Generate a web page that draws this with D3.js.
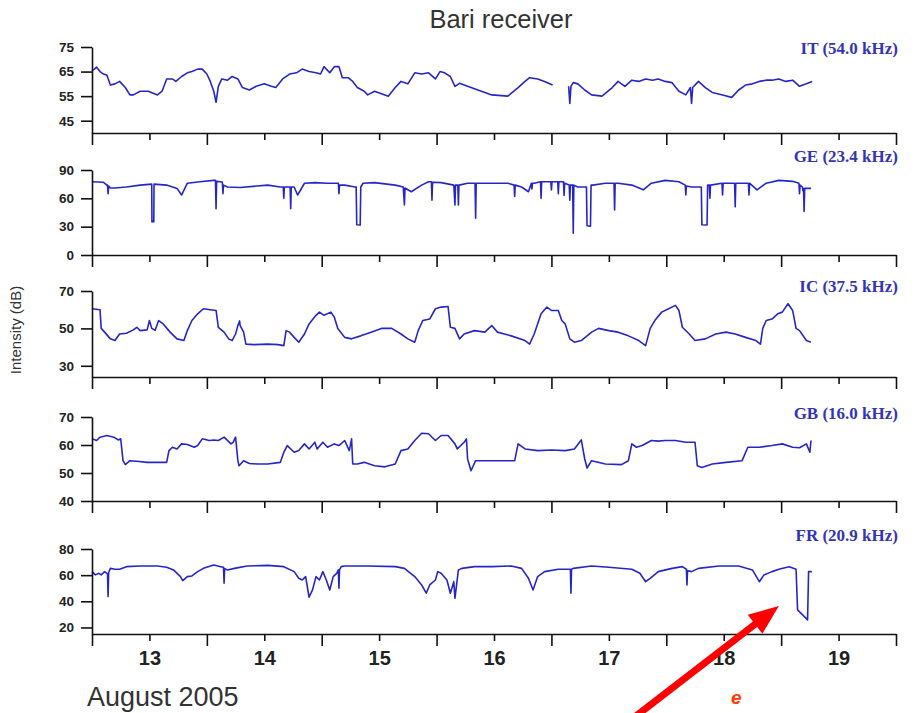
<!DOCTYPE html>
<html><head><meta charset="utf-8">
<script src="https://cdn.jsdelivr.net/npm/d3@7"></script>
<style>body{margin:0;background:#fff}svg{display:block}</style>
</head><body><svg id="c" width="916" height="713"></svg>
<script>
// ---------- data ----------
const xDomain = [12.5, 19.5];
const dayTicks = [13, 14, 15, 16, 17, 18, 19];
const halfDayTicks = [12.5, 13.5, 14.5, 15.5, 16.5, 17.5, 18.5, 19.5];

const stationNames = ["IT (54.0 kHz)", "GE (23.4 kHz)", "IC (37.5 kHz)", "GB (16.0 kHz)", "FR (20.9 kHz)"];
const yDomains = [[40, 75], [0, 90], [24, 70], [40, 70], [15, 80]];
const yTicksIT = [45, 55, 65, 75];
const yTicksGE = [0, 30, 60, 90];
const yTicksIC = [30, 50, 70];
const yTicksGB = [40, 50, 60, 70];
const yTicksFR = [20, 40, 60, 80];

const dataIT = [
[12.50,65.4],[12.52,66],[12.54,66.8],[12.57,65],[12.60,64],[12.63,63.5],[12.66,59.5],[12.70,60],[12.74,61],[12.79,58.5],[12.83,55.5],[12.86,55.5],[12.92,57],[12.99,57],[13.07,55.5],[13.11,57],[13.15,62],[13.20,62],[13.23,61],[13.28,63],[13.33,64.5],[13.37,65],[13.42,66],[13.46,66],[13.50,64],[13.53,61],[13.56,57],[13.58,52.5],[13.60,59],[13.63,62],[13.68,61.5],[13.72,63],[13.77,62],[13.81,58.5],[13.87,57.5],[13.93,59],[14.00,60],[14.06,59],[14.10,58.5],[14.16,62],[14.22,64],[14.28,64.5],[14.33,66],[14.39,65],[14.45,64.5],[14.49,64],[14.52,67],[14.57,64.5],[14.61,67],[14.65,67],[14.68,62.5],[14.73,62.5],[14.77,61],[14.81,58.5],[14.87,57],[14.90,55.5],[14.96,57],[15.02,56],[15.08,55],[15.14,58.5],[15.19,61],[15.25,60],[15.31,64.5],[15.37,64],[15.43,64.5],[15.49,62],[15.53,65],[15.57,64.5],[15.62,63],[15.66,59],[15.70,60.2],[15.77,59],[15.86,57.5],[15.98,55.5],[16.12,55],[16.21,58.5],[16.27,61],[16.31,62.5],[16.38,62],[16.44,61],[16.51,59.5],[16.58,null],[16.65,59],[16.66,52],[16.67,59],[16.69,60.5],[16.73,60],[16.79,57.5],[16.85,55.5],[16.94,55],[17.03,58.5],[17.08,61],[17.14,59],[17.20,61.5],[17.26,61],[17.32,62],[17.38,61.5],[17.43,62],[17.49,61],[17.55,60.5],[17.61,57],[17.67,55.5],[17.71,58.5],[17.72,52],[17.73,58.5],[17.78,61],[17.84,58.5],[17.90,56.5],[17.99,55.5],[18.07,54.5],[18.13,57.5],[18.19,59.5],[18.25,60],[18.31,61],[18.37,61.5],[18.42,61.5],[18.48,62],[18.54,61],[18.60,61.5],[18.66,59],[18.72,60],[18.77,61]
];

const dataGE = [
[12.50,77.6],[12.60,77],[12.63,74],[12.635,74],[12.64,65],[12.645,73],[12.66,71],[12.70,71],[12.80,72],[12.92,74],[13.02,75],[13.022,35],[13.03,36],[13.038,35],[13.04,75],[13.15,74],[13.24,70.5],[13.28,63.5],[13.33,76],[13.44,77.6],[13.56,79],[13.575,79],[13.58,49],[13.585,78],[13.62,77.6],[13.635,77],[13.64,65],[13.645,74],[13.68,72],[13.79,71.5],[14.03,74],[14.14,72],[14.165,72],[14.17,60],[14.175,72],[14.225,72],[14.23,49],[14.235,72],[14.26,72],[14.29,63.5],[14.35,76],[14.44,76.6],[14.55,76],[14.645,76],[14.65,65],[14.655,74],[14.70,74],[14.79,72],[14.80,72],[14.805,32],[14.835,31.7],[14.84,72],[14.86,76],[14.96,76.6],[15.14,74],[15.21,72],[15.22,53],[15.225,71],[15.28,67],[15.37,74],[15.43,77.6],[15.455,77.6],[15.46,58],[15.465,77],[15.54,76.6],[15.65,74],[15.66,53],[15.665,74],[15.685,74],[15.69,53],[15.695,74],[15.77,76],[15.835,76],[15.84,39],[15.845,76],[15.98,76],[16.12,76],[16.175,74],[16.18,62],[16.185,74],[16.24,72],[16.30,67],[16.325,76],[16.33,70],[16.335,76],[16.35,76],[16.405,77.6],[16.41,60],[16.415,77.6],[16.495,77.6],[16.50,69],[16.505,77.6],[16.555,77.6],[16.56,65],[16.565,77.6],[16.605,77.6],[16.61,63],[16.615,76],[16.655,74],[16.66,58],[16.665,74],[16.685,74],[16.69,23],[16.695,74],[16.73,72],[16.805,72],[16.81,31],[16.84,30.6],[16.845,74],[16.86,74],[16.97,76],[17.045,76],[17.05,47.6],[17.055,76],[17.08,76],[17.20,74],[17.30,69],[17.37,76],[17.49,79],[17.61,77.6],[17.665,74],[17.67,63.5],[17.675,73],[17.72,72],[17.805,72],[17.81,32],[17.855,31.7],[17.86,74],[17.875,74],[17.88,60],[17.885,74],[17.985,76],[17.99,63.5],[17.995,76],[18.095,76],[18.10,51],[18.105,76],[18.215,76],[18.22,63.5],[18.225,76],[18.29,69],[18.37,76],[18.48,79],[18.60,78],[18.655,76],[18.66,65],[18.665,74],[18.685,72],[18.69,68],[18.695,70.5],[18.70,46],[18.705,70.5],[18.76,70.5]
];

const dataIC = [
[12.50,60.5],[12.57,60],[12.58,50],[12.61,48],[12.66,44.4],[12.70,43.5],[12.74,47],[12.80,47.4],[12.86,49.2],[12.89,50.6],[12.92,48.8],[12.98,49.2],[13.00,54.2],[13.02,50],[13.05,49],[13.08,54.2],[13.12,52.4],[13.18,48],[13.24,44.4],[13.30,43.5],[13.33,48.8],[13.37,54.2],[13.42,57.8],[13.47,60.5],[13.53,60],[13.58,59.6],[13.60,50.6],[13.65,48],[13.69,44.4],[13.72,43.5],[13.75,47],[13.77,51.5],[13.785,54],[13.79,51.5],[13.82,48],[13.84,41.6],[13.91,41.3],[14.03,41.6],[14.12,41.3],[14.17,40.8],[14.19,48.8],[14.22,48],[14.26,45.2],[14.30,42.6],[14.35,47],[14.39,52.4],[14.45,57],[14.48,58.7],[14.52,57],[14.58,58.7],[14.61,56],[14.64,50],[14.70,45.2],[14.76,44.4],[14.84,46],[14.93,48],[15.02,50],[15.11,50],[15.19,47],[15.25,44.4],[15.31,42.6],[15.34,48.8],[15.38,54.2],[15.44,55],[15.49,60.5],[15.54,61.4],[15.60,61.7],[15.62,50.6],[15.66,50],[15.70,44.4],[15.74,47],[15.83,48.8],[15.92,48],[15.98,51.5],[16.03,48],[16.15,46],[16.27,43.5],[16.31,41.6],[16.35,47],[16.41,57.8],[16.46,61.4],[16.50,59.6],[16.56,59.6],[16.59,54.2],[16.62,52.4],[16.66,44.4],[16.70,42.6],[16.76,43.5],[16.85,48],[16.91,50],[17.00,48.8],[17.08,48],[17.17,46],[17.26,43.5],[17.32,40.8],[17.36,50],[17.40,54.2],[17.46,58.7],[17.52,60.5],[17.58,62.3],[17.61,59.6],[17.64,50.6],[17.70,47],[17.75,43.5],[17.84,44.4],[17.93,47],[18.02,48],[18.10,47],[18.19,45.2],[18.28,43.5],[18.32,41.6],[18.34,50],[18.37,54.2],[18.42,55],[18.47,57.8],[18.51,58.7],[18.56,63.2],[18.60,59.6],[18.63,50],[18.66,48.8],[18.72,43.5],[18.76,42.6]
];

const dataGB = [
[12.50,62.2],[12.54,61.6],[12.57,62.8],[12.63,63.4],[12.69,62.8],[12.73,61.8],[12.75,62.2],[12.77,54.4],[12.79,53],[12.83,54.4],[12.89,54.2],[12.98,53.8],[13.07,53.8],[13.15,53.8],[13.17,58],[13.20,59.2],[13.24,58.6],[13.28,60.4],[13.33,60.2],[13.39,59.2],[13.42,59.8],[13.46,62.2],[13.52,61.6],[13.56,61.8],[13.60,61.6],[13.65,62.8],[13.71,60.4],[13.73,61],[13.75,62.8],[13.77,54.4],[13.78,52.6],[13.82,54.4],[13.87,53.4],[13.94,53.2],[14.03,53.2],[14.14,53.8],[14.17,57.4],[14.20,59.8],[14.26,57.4],[14.30,58],[14.35,60.4],[14.39,58.6],[14.44,61],[14.46,58.6],[14.51,61],[14.55,59.2],[14.61,60.4],[14.65,59.8],[14.70,61.6],[14.74,58],[14.76,62.2],[14.77,53.2],[14.81,53.2],[14.87,53.8],[14.96,52.6],[15.05,52.2],[15.14,53.2],[15.19,58],[15.25,58.6],[15.31,61.6],[15.37,64.2],[15.43,64],[15.49,61.6],[15.54,63.4],[15.60,63.4],[15.66,60.4],[15.68,58.6],[15.74,61],[15.76,62.2],[15.77,55],[15.80,50.8],[15.84,54.4],[15.92,54.4],[16.03,54.4],[16.18,54.4],[16.21,60.4],[16.27,58.6],[16.38,58],[16.50,58.2],[16.62,58],[16.70,58.6],[16.76,61.8],[16.79,55],[16.81,51.8],[16.85,54.4],[16.97,53.2],[17.11,53],[17.17,54.4],[17.20,60.4],[17.24,59.2],[17.29,59.8],[17.37,61.6],[17.43,61.4],[17.49,61.6],[17.58,61.6],[17.67,61],[17.75,61],[17.77,52.6],[17.81,52],[17.90,53.2],[18.02,53.8],[18.16,54.4],[18.21,59.2],[18.31,59.2],[18.42,59.8],[18.51,60.4],[18.60,59.2],[18.66,59],[18.72,60.4],[18.75,57.4],[18.76,61.6]
];

const dataFR = [
[12.50,62.7],[12.53,60.2],[12.56,61.4],[12.58,60.2],[12.61,62.7],[12.63,61.4],[12.635,61],[12.64,43.6],[12.645,62],[12.66,65.2],[12.70,64.5],[12.74,64.5],[12.80,66.5],[12.92,67],[13.07,67],[13.15,66],[13.21,64],[13.27,58.9],[13.29,55.8],[13.33,58.9],[13.37,59.4],[13.42,62.7],[13.47,65.2],[13.56,67.8],[13.62,66.5],[13.645,66],[13.65,53.8],[13.655,65],[13.68,64],[13.74,65.2],[13.85,67],[14.03,67.5],[14.17,66.5],[14.26,62.7],[14.30,57.6],[14.33,56.3],[14.36,58.9],[14.39,43.1],[14.42,48.7],[14.45,58.9],[14.48,56.3],[14.51,62.7],[14.54,56.3],[14.57,48.7],[14.60,58.9],[14.63,61.4],[14.645,64],[14.65,50],[14.655,64],[14.67,66.5],[14.70,67],[14.90,67],[15.14,66.5],[15.22,65.2],[15.31,58.9],[15.37,52.5],[15.41,46.2],[15.44,52.5],[15.49,56.3],[15.51,62.7],[15.54,61.4],[15.59,56.3],[15.62,46.2],[15.65,55],[15.66,42.3],[15.69,64],[15.72,65.2],[15.83,66.5],[15.98,66.5],[16.15,67],[16.24,65.2],[16.30,57.6],[16.34,48.7],[16.38,58.9],[16.44,62.7],[16.56,64.5],[16.665,64.5],[16.67,46.2],[16.675,64.5],[16.69,65.2],[16.85,67],[17.00,66],[17.20,64.5],[17.27,61.4],[17.32,55],[17.36,57.6],[17.43,62.7],[17.55,65.2],[17.64,66.5],[17.675,64.5],[17.68,52.5],[17.685,63.5],[17.72,62.7],[17.78,65.2],[17.96,67],[18.13,67],[18.25,64],[18.31,55],[18.35,60.2],[18.42,62.7],[18.48,64.5],[18.57,66.5],[18.63,64.5],[18.643,33.4],[18.687,29.6],[18.73,25.8],[18.739,62.7],[18.768,62.7]
];

// annotation arrow in FR-panel data units (tail below the panel, tip near the drop)
const arrowTail = [17.236, -47.7];
const arrowTip = [18.48, 36.4];

// ---------- layout ----------
const svg = d3.select("#c");
const W = 916, H = 713;
const left = 92, right = 896;
const panelBox = [[47, 133], [170, 255], [291, 377], [417, 501], [549, 634]]; // [top, bottom]
const labelBase = [54, 162, 292, 419, 541];
const yTickSets = [yTicksIT, yTicksGE, yTicksIC, yTicksGB, yTicksFR];
const series = [dataIT, dataGE, dataIC, dataGB, dataFR];

const LINE = "#2626c8";
const LABEL = "#3434b4";
const SANS = "'Liberation Sans', Arial, sans-serif";
const SERIF = "'Liberation Serif', 'Times New Roman', serif";

const x = d3.scaleLinear().domain(xDomain).range([left, right]);

svg.append("rect").attr("width", W).attr("height", H).attr("fill", "#fff");

svg.append("text").attr("x", 501).attr("y", 28).attr("text-anchor", "middle")
  .attr("font-family", SANS).attr("font-size", 25.5).attr("fill", "#333")
  .text("Bari receiver");

let yFR;
series.forEach((data, i) => {
  const [top, bottom] = panelBox[i];
  const y = d3.scaleLinear().domain(yDomains[i]).range([bottom, top]);
  if (i === 4) yFR = y;
  const g = svg.append("g");

  // line
  g.append("path").datum(data)
    .attr("fill", "none").attr("stroke", LINE).attr("stroke-width", 1.6)
    .attr("stroke-linejoin", "round")
    .attr("d", d3.line().defined(d => d[1] != null).x(d => x(d[0])).y(d => y(d[1])));

  // y axis
  const ya = g.append("g").attr("transform", `translate(${left},0)`)
    .call(d3.axisLeft(y).tickValues(yTickSets[i]).tickSize(11).tickSizeOuter(0).tickPadding(7));
  // x axis: half-day long ticks
  const xa1 = g.append("g").attr("transform", `translate(0,${bottom})`)
    .call(d3.axisBottom(x).tickValues(halfDayTicks).tickSize(12).tickSizeOuter(0).tickFormat(""));
  // x axis: day ticks, short
  const xa2 = g.append("g").attr("transform", `translate(0,${bottom})`)
    .call(d3.axisBottom(x).tickValues(dayTicks).tickSize(7).tickSizeOuter(0).tickPadding(10)
      .tickFormat(i === 4 ? d3.format("d") : ""));
  xa2.select(".domain").remove();

  [ya, xa1, xa2].forEach(a => {
    a.selectAll("path,line").attr("stroke", "#111").attr("stroke-width", 1.6);
  });
  ya.selectAll("text").attr("font-family", SANS).attr("font-weight", "bold")
    .attr("font-size", 13.5).attr("fill", "#222");
  xa2.selectAll("text").attr("font-family", SANS).attr("font-weight", "bold")
    .attr("font-size", 20).attr("fill", "#222");

  // station label
  g.append("text").attr("x", 898).attr("y", labelBase[i]).attr("text-anchor", "end")
    .attr("font-family", SERIF).attr("font-weight", "bold").attr("font-size", 17)
    .attr("fill", LABEL).text(stationNames[i]);
});

// y label
svg.append("text").attr("transform", "translate(21,330) rotate(-90)")
  .attr("text-anchor", "middle").attr("font-family", SANS).attr("font-size", 15)
  .attr("fill", "#333").text("Intensity (dB)");

// bottom caption
svg.append("text").attr("x", 87).attr("y", 706).attr("font-family", SANS)
  .attr("font-size", 27).attr("fill", "#333").text("August 2005");

// red arrow
const [tx0, ty0] = [x(arrowTail[0]), yFR(arrowTail[1])];
const [tx1, ty1] = [x(arrowTip[0]), yFR(arrowTip[1])];
const dx = tx1 - tx0, dy = ty1 - ty0, len = Math.hypot(dx, dy);
const ux = dx / len, uy = dy / len, px = -uy, py = ux;
const headL = 30, headW = 12;
const bx = tx1 - ux * headL, by = ty1 - uy * headL;
svg.append("line").attr("x1", tx0).attr("y1", ty0).attr("x2", bx + ux * 2).attr("y2", by + uy * 2)
  .attr("stroke", "#ff0000").attr("stroke-width", 7);
svg.append("path")
  .attr("d", `M${tx1},${ty1}L${bx + px * headW},${by + py * headW}L${bx - px * headW},${by - py * headW}Z`)
  .attr("fill", "#ff0000");

// small red annotation text near the bottom edge (kept fully inside the picture)
svg.append("text").attr("x", 731).attr("y", 704).attr("font-family", SANS)
  .attr("font-weight", "bold").attr("font-style", "italic").attr("font-size", 19)
  .attr("fill", "#ff3b00").text("e");
</script>
</body></html>
